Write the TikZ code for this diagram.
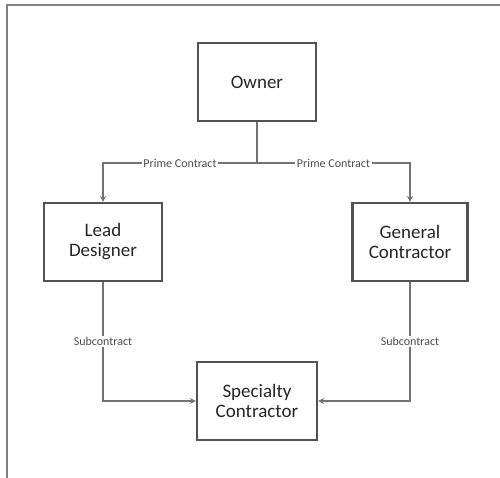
\documentclass[tikz,border=0pt]{standalone}
\usepackage{fontspec}
\setmainfont{Carlito}
\usetikzlibrary{arrows.meta}
\begin{document}
\begin{tikzpicture}[x=1pt,y=-1pt,
  party/.style={draw=black!68, line width=2.2pt, fill=white, minimum width=118pt,
    minimum height=78pt, align=center, font=\fontsize{19}{20}\selectfont, text=black!85},
  link/.style={draw=black!55, line width=1.8pt, -{Stealth[length=6pt,width=6pt]}},
  tag/.style={fill=white, inner sep=1.5pt, font=\fontsize{12}{13}\selectfont, text=black!70}]
  \useasboundingbox (0,0) rectangle (500,477);
  % outer frame (only top and left edges fall inside the page)
  \draw[black!50, line width=2pt] (7,480) -- (7,5) -- (503,5);

  \node[party] (own) at (257,82) {Owner};
  \node[party] (lead) at (103,242) {Lead\\Designer};
  \node[party, minimum width=115pt] (gen) at (410,242) {General\\Contractor};
  \node[party, minimum width=120pt] (spec) at (257,401) {Specialty\\Contractor};

  \coordinate (fork) at (257,163);
  \draw[link] (own.south) -- (fork) -| node[tag, pos=0.25] {Prime Contract} (lead.north);
  \draw[link] (fork) -| node[tag, pos=0.25] {Prime Contract} (gen.north);
  \draw[link] (lead.south) |- node[tag, pos=0.25] {Subcontract} (spec.west);
  \draw[link] (gen.south) |- node[tag, pos=0.25] {Subcontract} (spec.east);
\end{tikzpicture}
\end{document}
